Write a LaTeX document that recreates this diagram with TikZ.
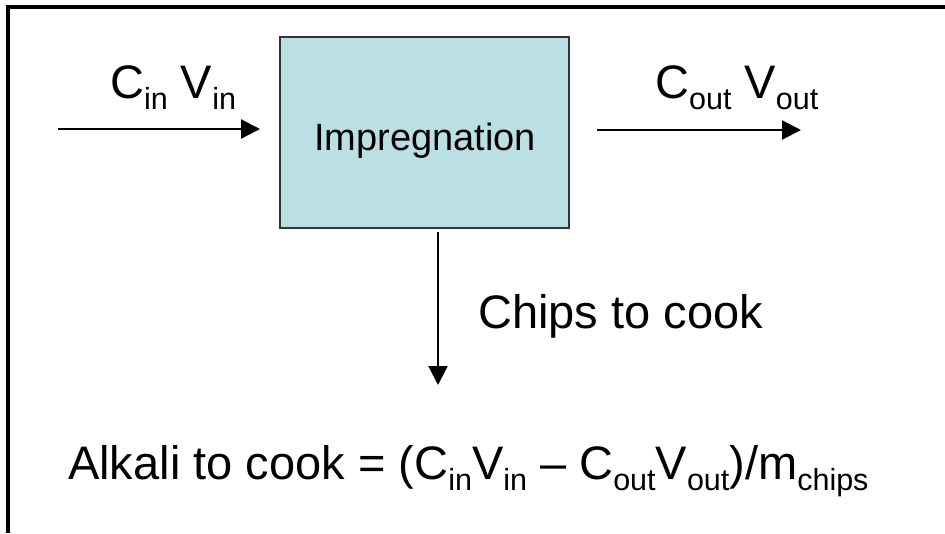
\documentclass[tikz,border=0pt]{standalone}
\usepackage{fontspec}
\setmainfont{Liberation Sans}
\usetikzlibrary{arrows.meta}
\newcommand\sbs[1]{\raisebox{-11pt}{\fontsize{30.5}{32}\selectfont #1}}
\definecolor{boxfill}{HTML}{BBE0E3}
\tikzset{
  big/.style={font=\fontsize{47}{56}\selectfont, inner sep=0pt},
  flow/.style={line width=2.2pt, -{Triangle[length=19pt,width=19pt]}},
}
\begin{document}
\begin{tikzpicture}[x=1pt,y=-1pt]
\useasboundingbox (0,0) rectangle (945,533);
\fill[white] (0,0) rectangle (945,533);
\draw[line width=3.5pt] (8,533) -- (8,7) -- (946,7);
\node[draw=black!80, line width=1.2pt, fill=boxfill, minimum width=289pt, minimum height=191pt, inner sep=0pt] (imp) at (424.5,132.5) {};
\node[font=\fontsize{38}{44}\selectfont, inner sep=0pt, anchor=base] (implbl) at (425,150) {Impregnation};
\coordinate (in1) at (58,129);
\coordinate (in2) at (260,129);
\coordinate (out1) at (597,130);
\coordinate (out2) at (801,130);
\coordinate (d1) at (438,232);
\coordinate (d2) at (438,385);
\draw[flow] (in1) -- (in2);
\draw[flow] (out1) -- (out2);
\draw[flow] (d1) -- (d2);
\node[big, anchor=base west] (cin) at (110,98) {C\sbs{in} V\sbs{in}};
\node[big, anchor=base west] (cout) at (655,98) {C\sbs{out} V\sbs{out}};
\node[big, anchor=base west] (chips) at (478,328) {Chips to cook};
\node[big, anchor=base west] (alk) at (68,479) {Alkali to cook = (C\sbs{in}V\sbs{in} – C\sbs{out}V\sbs{out})/m\sbs{chips}};
\end{tikzpicture}
\end{document}
